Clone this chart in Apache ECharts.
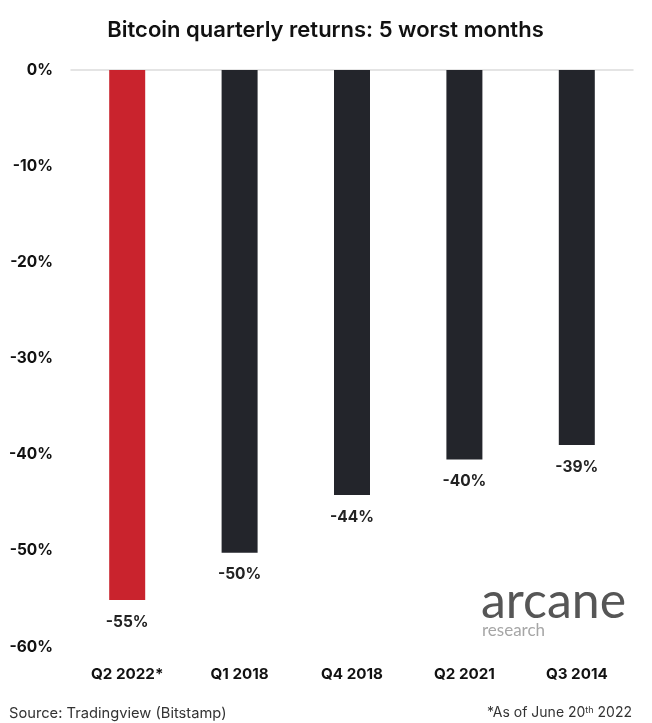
<!DOCTYPE html>
<html><head><meta charset="utf-8">
<style>html,body{margin:0;padding:0;background:#fff}#c{width:652px;height:723px}</style>
<script src="https://cdn.jsdelivr.net/npm/echarts@6/dist/echarts.min.js"></script>
</head><body><div id="c"></div>
<script>
const categories = ['Q2 2022*','Q1 2018','Q4 2018','Q2 2021','Q3 2014'];
const values = [-55.1,-50.2,-44.2,-40.5,-39.0];
const valueLabels = ['-55%','-50%','-44%','-40%','-39%'];
const barColors = ['#c9232d','#23252b','#23252b','#23252b','#23252b'];
const titleText = 'Bitcoin quarterly returns: 5 worst months';
const F = 'Inter';
const chart = echarts.init(document.getElementById('c'), null, {renderer:'canvas'});
chart.setOption({
  animation:false,
  backgroundColor:'#fff',
  title:{text:titleText,left:320.5,top:14,textAlign:'center',
    textStyle:{fontFamily:F,fontSize:22,fontWeight:600,color:'#111'}},
  grid:{left:71,right:19,top:70,bottom:76},
  xAxis:[
    {type:'category',data:categories,position:'bottom',
     axisLine:{show:false},axisTick:{show:false},
     axisLabel:{fontFamily:F,fontSize:15.2,fontWeight:700,color:'#111',margin:20}},
    {type:'category',data:categories,position:'top',
     axisLine:{show:true,lineStyle:{color:'#dcdcdc',width:1.5}},axisTick:{show:false},axisLabel:{show:false}}
  ],
  yAxis:{type:'value',min:-60,max:0,interval:10,
    axisLine:{show:false},axisTick:{show:false},splitLine:{show:false},
    axisLabel:{fontFamily:F,fontSize:15.5,fontWeight:700,color:'#111',margin:18,padding:[2,0,0,0],
      verticalAlignMinLabel:'middle',verticalAlignMaxLabel:'middle',
      formatter:v=>v+'%'}},
  series:[{type:'bar',barWidth:36,
    data:values.map((v,i)=>({value:v,itemStyle:{color:barColors[i]},
      label:{formatter:valueLabels[i]}})),
    label:{show:true,position:'bottom',distance:14,fontFamily:F,fontSize:15.5,fontWeight:700,color:'#222'}}],
  graphic:[
    {type:'text',left:9,top:706,style:{text:'Source: Tradingview (Bitstamp)',fontFamily:F,fontSize:14.7,fill:'#333'}},
    {type:'text',right:20,top:706,style:{
      text:'*As of June 20{s|th} 2022',fontFamily:F,fontSize:14,fill:'#333',
      rich:{s:{fontFamily:F,fontSize:9,fill:'#333',verticalAlign:'top',lineHeight:14,padding:[0,0,5,0]}}}},
    {type:'text',left:481,top:577,style:{text:'arcane',fontFamily:'Lato',fontSize:50,fontWeight:400,fill:'#565656'}},
    {type:'text',left:482,top:622,style:{text:'research',fontFamily:'Lato',fontSize:17,fill:'#a6a6a6'}}
  ]
});
</script></body></html>
